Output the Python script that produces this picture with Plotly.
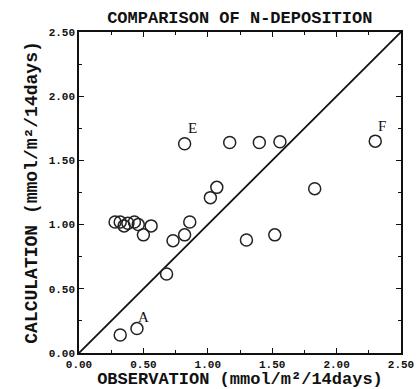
import plotly.graph_objects as go

obs = [0.28, 0.32, 0.35, 0.38, 0.43, 0.46, 0.50, 0.56,
       0.68, 0.73, 0.82, 0.86, 1.02, 1.07,
       0.82, 1.17, 1.40, 1.56, 2.30, 1.83, 1.30, 1.52,
       0.32, 0.45]
calc = [1.02, 1.02, 0.99, 1.01, 1.02, 1.00, 0.92, 0.99,
        0.615, 0.875, 0.92, 1.02, 1.21, 1.29,
        1.63, 1.64, 1.64, 1.645, 1.65, 1.28, 0.88, 0.92,
        0.14, 0.19]

labels = ["A", "E", "F"]
label_x = [0.50, 0.88, 2.35]
label_y = [0.28, 1.75, 1.77]

line_x = [0.0, 2.5]
line_y = [0.0, 2.5]

tickvals = [0.0, 0.5, 1.0, 1.5, 2.0, 2.5]
ticktext = ["0.00", "0.50", "1.00", "1.50", "2.00", "2.50"]

fig = go.Figure()
fig.add_trace(go.Scatter(x=line_x, y=line_y, mode="lines",
                         line=dict(color="#111", width=1.8), showlegend=False))
fig.add_trace(go.Scatter(x=obs, y=calc, mode="markers",
                         marker=dict(symbol="circle-open", size=12,
                                     color="#222", line=dict(width=1.5)),
                         showlegend=False))
for t, x, y in zip(labels, label_x, label_y):
    fig.add_annotation(x=x, y=y, text=t, showarrow=False,
                       font=dict(family="Liberation Serif", size=15, color="#111"))

mono = "Liberation Mono"
axis_common = dict(
    range=[0, 2.5], tickvals=tickvals, ticktext=ticktext,
    showgrid=False, zeroline=False, showline=True, linecolor="#111", linewidth=1.5,
    mirror="ticks", ticks="inside", ticklen=5, tickwidth=1.2, tickcolor="#111",
    tickfont=dict(family=mono, size=11, color="#111", weight="bold"),
    minor=dict(dtick=0.25, ticks="inside", ticklen=3, tickcolor="#111"),
    automargin=False,
)

fig.update_xaxes(**axis_common,
                 title=dict(text="OBSERVATION (mmol/m²/14days)", standoff=2,
                            font=dict(family=mono, size=17, color="#111", weight="bold")))
fig.update_yaxes(**axis_common,
                 title=dict(text="CALCULATION (mmol/m²/14days)", standoff=6,
                            font=dict(family=mono, size=18, color="#111", weight="bold")))

fig.update_layout(
    width=417, height=389,
    margin=dict(l=79, r=16, t=32, b=36),
    paper_bgcolor="white", plot_bgcolor="white",
    title=dict(text="COMPARISON OF N-DEPOSITION", x=0.575, xanchor="center",
               y=0.955, yanchor="middle",
               font=dict(family=mono, size=17, color="#111", weight="bold")),
)

fig.write_html("out.html")
